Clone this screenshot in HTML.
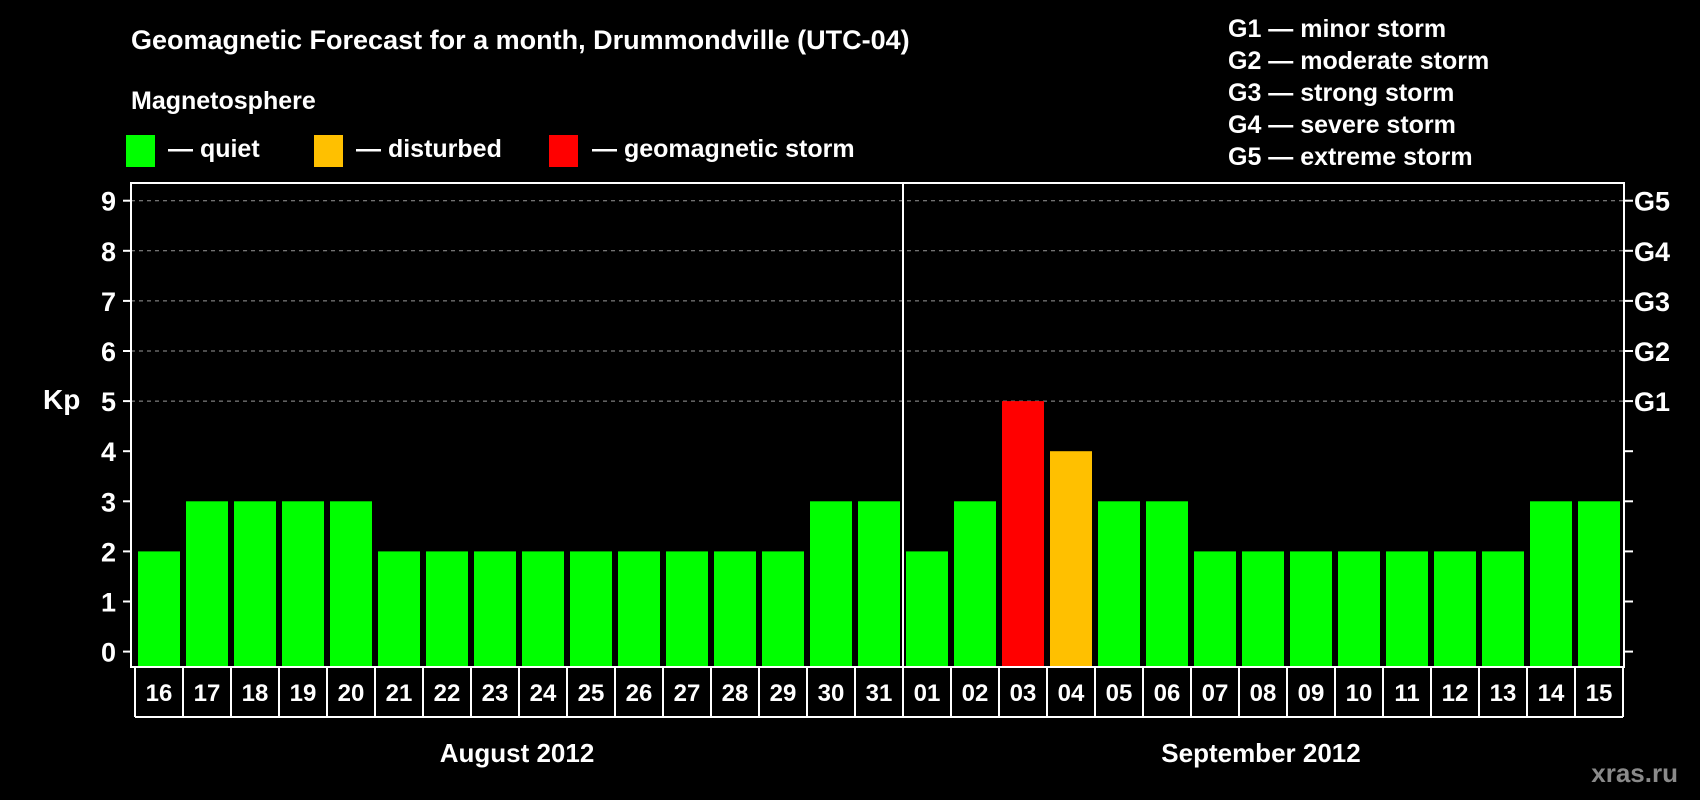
<!DOCTYPE html>
<html><head><meta charset="utf-8"><style>
html,body{margin:0;padding:0;background:#000;}
svg{display:block;font-family:"Liberation Sans",Arial,sans-serif;font-weight:bold;}
</style></head><body>
<svg id="chart" width="1700" height="800" viewBox="0 0 1700 800" xmlns="http://www.w3.org/2000/svg">
<rect width="1700" height="800" fill="#000"/>
<text x="131" y="49" fill="#fff" font-size="27">Geomagnetic Forecast for a month, Drummondville (UTC-04)</text>
<text x="131" y="109" fill="#fff" font-size="25">Magnetosphere</text>
<g><rect x="126" y="135" width="29" height="32" fill="#00ff00"/><text x="168" y="157" fill="#fff" font-size="25">— quiet</text></g>
<g><rect x="314" y="135" width="29" height="32" fill="#ffc000"/><text x="356" y="157" fill="#fff" font-size="25">— disturbed</text></g>
<g><rect x="549" y="135" width="29" height="32" fill="#ff0000"/><text x="592" y="157" fill="#fff" font-size="25">— geomagnetic storm</text></g>
<g fill="#fff" font-size="25">
<text x="1228" y="37">G1 — minor storm</text>
<text x="1228" y="69">G2 — moderate storm</text>
<text x="1228" y="101">G3 — strong storm</text>
<text x="1228" y="133">G4 — severe storm</text>
<text x="1228" y="165">G5 — extreme storm</text>
</g>
<text x="43" y="409" fill="#fff" font-size="28">Kp</text>
<g id="grid"></g>
<g id="bars"></g>
<g id="axes"></g>
<text x="517" y="762" fill="#fff" font-size="26" text-anchor="middle">August 2012</text>
<text x="1261" y="762" fill="#fff" font-size="26" text-anchor="middle">September 2012</text>
<text x="1678" y="782" fill="#8a8a8a" font-size="26" text-anchor="end">xras.ru</text>
</svg>
<script>
const days = ["16","17","18","19","20","21","22","23","24","25","26","27","28","29","30","31","01","02","03","04","05","06","07","08","09","10","11","12","13","14","15"];
const kpValues = [2,3,3,3,3,2,2,2,2,2,2,2,2,2,3,3,2,3,5,4,3,3,2,2,2,2,2,2,2,3,3];
const yTicks = [0,1,2,3,4,5,6,7,8,9];
const gLabels = ["G1","G2","G3","G4","G5"];
const NS="http://www.w3.org/2000/svg";
const L=131,R=1624,T=183,B=667,Y0=651.6,UNIT=50.1;
const split=16;
function y(v){return Y0-v*UNIT;}
function xs(i){return i<split?138+i*48:906+(i-split)*48;}
function mk(tag,attrs,parent,txt){const e=document.createElementNS(NS,tag);for(const k in attrs)e.setAttribute(k,attrs[k]);if(txt!==undefined)e.textContent=txt;parent.appendChild(e);return e;}
const grid=document.getElementById('grid'),bars=document.getElementById('bars'),axes=document.getElementById('axes');
for(let v=5;v<=9;v++){const g=mk('line',{x1:L,x2:R,y1:y(v),y2:y(v),stroke:'#999','stroke-width':1,'stroke-dasharray':'4,4'},grid);

}
kpValues.forEach((v,i)=>{const c=v>=5?'#ff0000':(v>=4?'#ffc000':'#00ff00');
const b=mk('rect',{x:xs(i),y:y(v),width:42,height:Y0+15.4-y(v)-0.4,fill:c},bars);

});
const frame=mk('rect',{x:L,y:T,width:R-L,height:B-T,fill:'none',stroke:'#fff','stroke-width':2},axes);


const dv=mk('line',{x1:903,x2:903,y1:T,y2:B,stroke:'#fff','stroke-width':2},axes);


yTicks.forEach(v=>{mk('line',{x1:123,x2:L,y1:y(v),y2:y(v),stroke:'#fff','stroke-width':2},axes);
mk('line',{x1:R,x2:R+9,y1:y(v),y2:y(v),stroke:'#fff','stroke-width':2},axes);
const t=mk('text',{x:116,y:y(v)+10,fill:'#fff','font-size':27,'text-anchor':'end'},axes,String(v));

});
gLabels.forEach((g,i)=>{const t=mk('text',{x:1634,y:y(5+i)+10,fill:'#fff','font-size':27},axes,g);

});
// date boxes
mk('line',{x1:135,x2:1623,y1:717,y2:717,stroke:'#fff','stroke-width':2},axes);
mk('line',{x1:135,x2:135,y1:B,y2:717,stroke:'#fff','stroke-width':2},axes);
mk('line',{x1:1623,x2:1623,y1:B,y2:717,stroke:'#fff','stroke-width':2},axes);
days.forEach((d,i)=>{if(i>0){mk('line',{x1:xs(i)-3,x2:xs(i)-3,y1:B,y2:717,stroke:'#fff','stroke-width':2},axes);}
const t=mk('text',{x:xs(i)+21,y:701,fill:'#fff','font-size':24,'text-anchor':'middle'},axes,d);

});
</script>
</body></html>
